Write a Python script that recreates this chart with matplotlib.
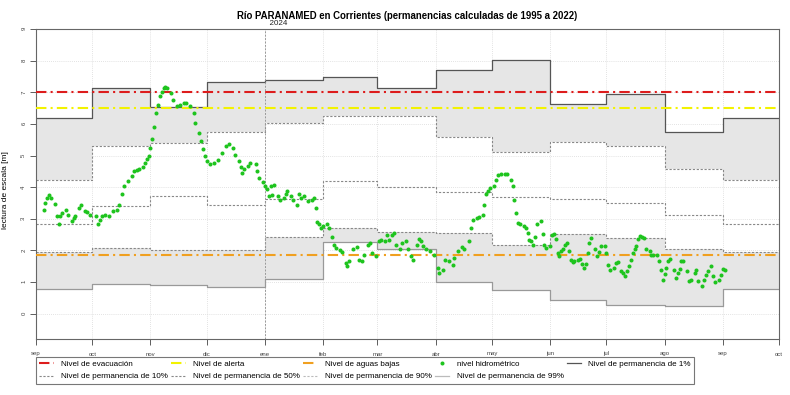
import matplotlib
matplotlib.use("Agg")
import matplotlib.pyplot as plt
from matplotlib.lines import Line2D
import pandas as pd

plt.rcParams['font.family'] = ['Liberation Sans', 'DejaVu Sans']

# meses (inicio de cada mes) de sep 2023 a sep 2024
meses = ["sep", "oct", "nov", "dic", "ene", "feb", "mar", "abr", "may", "jun", "jul", "ago", "sep", "oct"]

# niveles de permanencia por mes [m]
p1 = [6.18, 7.13, 6.52, 7.32, 7.40, 7.49, 7.14, 7.69, 8.03, 6.62, 6.95, 5.73, 6.18]
p10 = [4.23, 5.29, 5.39, 5.74, 6.03, 6.26, 6.25, 5.59, 5.12, 5.42, 5.31, 4.56, 4.23]
p50 = [2.84, 3.41, 3.72, 3.45, 3.64, 4.19, 4.00, 3.84, 3.70, 3.64, 3.50, 3.13, 2.84]
p90 = [1.96, 2.08, 2.02, 2.02, 2.41, 2.72, 2.57, 2.55, 2.18, 2.53, 2.38, 2.04, 1.96]
p99 = [0.78, 0.94, 0.90, 0.83, 1.10, 2.27, 2.03, 1.01, 0.75, 0.43, 0.28, 0.25, 0.78]

# niveles de referencia
evacuacion = 7.0
alerta = 6.5
aguas_bajas = 1.85

# nivel hidrometrico: dias desde 2023-09-01 y lectura [m]
dias = [4, 5, 6, 7, 8, 10, 11, 12, 13, 14, 16, 17, 19, 20, 21, 23, 24, 26, 27, 29,
        32, 33, 34, 35, 37, 39, 41, 43, 44, 46, 47, 49, 51, 52, 54, 55, 57, 58, 59, 60,
        61, 62, 63, 64, 65, 66, 67, 68, 69,
        70, 72, 73, 75, 77, 79, 80, 82, 84, 85, 87, 88, 89, 90, 91, 93, 95, 97, 99, 101,
        103, 105, 106, 108, 109, 110, 111, 113, 114, 117, 118, 119, 121, 122, 123, 125, 127,
        124, 126, 129, 130, 132, 133, 134, 136, 137, 139, 140, 141, 143, 145, 147, 148, 149,
        150, 151, 152, 153, 155, 156, 158, 159, 160, 162, 163, 165, 166, 167, 169, 171, 172,
        174, 175, 177, 178, 179, 181,
        183, 184, 186, 187, 188, 190, 191, 192, 194, 195, 197, 198, 200, 201, 203, 204, 205,
        206, 208, 210, 212,
        214, 215, 217, 218, 220, 222, 223, 225, 227, 228, 231, 232, 233, 235, 236, 238, 239,
        240, 241, 242,
        244, 245, 246, 248, 250, 251, 253, 254, 255, 256, 257, 258, 260, 261, 262, 263, 264,
        265, 266, 267, 269, 270, 271, 272,
        274, 275, 276, 277, 278, 279, 280, 281, 282, 283, 284, 285, 286, 287, 289, 290, 291,
        292, 293, 294, 295, 296, 298, 299, 300, 301, 303,
        304, 305, 306, 308, 309, 310, 312, 313, 314, 315, 316, 317, 318, 319, 320, 321, 322,
        323, 324, 325, 327, 328, 329, 331,
        332, 333, 334, 335, 336, 337, 338, 340, 341, 342, 343, 344, 345, 347, 348, 349, 351,
        352, 353, 355, 356, 357, 358, 360, 361, 362, 364, 365, 366, 367]
nivel = [3.29, 3.50, 3.66, 3.74, 3.66, 3.48, 3.08, 2.82, 3.08, 3.19, 3.29, 3.13, 2.92, 3.03, 3.08, 3.34, 3.45, 3.24, 3.22, 3.13,
         3.08, 2.82, 2.97, 3.08, 3.13, 3.08, 3.24, 3.29, 3.45, 3.77, 4.03, 4.19, 4.34, 4.50, 4.55, 4.58, 4.64, 4.77, 4.88, 4.98,
         5.24, 5.51, 5.90, 6.35, 6.61, 6.88, 7.00, 7.14, 7.17,
         7.15, 6.98, 6.77, 6.56, 6.61, 6.67, 6.65, 6.56, 6.35, 6.03, 5.70, 5.45, 5.21, 5.00, 4.82, 4.74, 4.77, 4.85, 5.08, 5.29,
         5.37, 5.24, 5.03, 4.82, 4.64, 4.45, 4.56, 4.68, 4.77, 4.72, 4.50, 4.29, 4.16, 4.03, 3.95, 4.03, 4.08,
         3.73, 3.74, 3.71, 3.61, 3.66, 3.77, 3.87, 3.71, 3.61, 3.45, 3.77, 3.66, 3.71, 3.55, 3.61, 3.66, 3.34,
         2.89, 2.85, 2.71, 2.78, 2.82, 2.71, 2.41, 2.18, 2.08, 2.00, 1.94, 1.60, 1.52, 1.66, 2.05, 2.11, 1.71,
         1.66, 1.87, 2.18, 2.24, 1.92, 1.81,
         2.29, 2.34, 2.29, 2.50, 2.34, 2.50, 2.55, 2.18, 2.03, 2.24, 2.29, 2.03, 1.81, 1.71, 2.18, 2.36, 2.29,
         2.13, 2.03, 1.97, 1.84,
         1.45, 1.29, 1.39, 1.71, 1.66, 1.55, 1.76, 1.97, 2.11, 2.05, 2.31, 2.71, 2.97, 3.03, 3.06, 3.13, 3.45,
         3.77, 3.87, 3.98,
         4.03, 4.22, 4.40, 4.42, 4.41, 4.43, 4.22, 4.03, 3.61, 3.19, 2.87, 2.82, 2.76, 2.71, 2.55, 2.32, 2.31,
         2.18, 2.43, 2.82, 2.92, 2.52, 2.18, 2.08,
         2.13, 2.50, 2.53, 2.36, 1.92, 1.81, 1.97, 2.05, 2.18, 2.22, 1.97, 1.69, 1.64, 1.66, 1.71, 1.73, 1.58,
         1.45, 1.58, 1.92, 2.24, 2.40, 2.05, 1.81, 1.94, 2.13, 2.15,
         1.92, 1.55, 1.39, 1.45, 1.60, 1.62, 1.34, 1.29, 1.18, 1.34, 1.50, 1.71, 1.92, 2.05, 2.15, 2.35, 2.45,
         2.43, 2.40, 2.03, 1.97, 1.87, 1.84, 1.84,
         1.66, 1.39, 1.08, 1.26, 1.45, 1.66, 1.73, 1.39, 1.13, 1.29, 1.41, 1.66, 1.68, 1.34, 1.02, 1.08, 1.29,
         1.37, 1.02, 0.89, 1.08, 1.23, 1.34, 1.50, 1.20, 0.99, 1.08, 1.23, 1.41, 1.37]

inicio = pd.Timestamp("2023-09-01")
bordes = pd.date_range("2023-09-01", "2024-10-01", freq="MS")
fechas = inicio + pd.to_timedelta(dias, unit="D")

def escalon(v):
    # repetimos el ultimo valor para cerrar el escalon en oct
    return list(v) + [v[-1]]

fig = plt.figure(figsize=(7.9, 3.95), dpi=100)
ax = fig.add_axes([36 / 790, 1 - 339 / 395, 743 / 790, 310 / 395])

gris_grilla = "#d9d9d9"
for b in bordes:
    ax.axvline(b, color=gris_grilla, lw=0.6, ls=(0, (1, 1.5)), zorder=0)
for yv in range(0, 10):
    ax.axhline(yv, color=gris_grilla, lw=0.6, ls=(0, (1, 1.5)), zorder=0)

# bandas de permanencia
ax.fill_between(bordes, escalon(p10), escalon(p1), step="post", color="#e6e6e6", lw=0, zorder=1)
ax.fill_between(bordes, escalon(p99), escalon(p90), step="post", color="#e6e6e6", lw=0, zorder=1)
ax.step(bordes, escalon(p1), where="post", color="#555555", lw=0.9, zorder=2)
ax.step(bordes, escalon(p10), where="post", color="#888888", lw=0.8, ls=(0, (2, 1.5)), zorder=2)
ax.step(bordes, escalon(p50), where="post", color="#888888", lw=0.8, ls=(0, (2, 1.5)), zorder=2)
ax.step(bordes, escalon(p90), where="post", color="#888888", lw=0.8, ls=(0, (2, 1.5)), zorder=2)
ax.step(bordes, escalon(p99), where="post", color="#999999", lw=0.9, zorder=2)

# niveles de referencia
ax.axhline(evacuacion, color="#dd1c1c", lw=1.5, ls=(0, (5, 2, 1, 2)), zorder=3)
ax.axhline(alerta, color="#f2f200", lw=1.5, ls=(0, (5, 2, 1, 2)), zorder=3)
ax.axhline(aguas_bajas, color="#f0a020", lw=1.5, ls=(0, (5, 2, 1, 2)), zorder=3)

# inicio de 2024
ax.axvline(pd.Timestamp("2024-01-01"), color="#999999", lw=0.7, ls=(0, (2, 1.5)), zorder=2)
ax.text(pd.Timestamp("2024-01-01"), 9.06, "  2024", fontsize=5.8, color="#222222", ha="left", va="bottom")

ax.plot(fechas, nivel, "o", color="#1ec41e", ms=2.9, mew=0, zorder=4)

ax.set_xlim(bordes[0], bordes[-1])
ax.set_ylim(-0.8, 9)
ax.set_xticks(bordes)
ax.set_xticklabels(meses)
ax.set_yticks(range(0, 10))
ax.tick_params(axis="both", labelsize=4.3, colors="#444444", length=4, width=0.6, pad=5)
ax.tick_params(axis="y", labelrotation=90, pad=3)
for s in ax.spines.values():
    s.set_color("#666666")
    s.set_linewidth(0.8)

fig.text(407.5 / 790, 1 - 16 / 395, "Río PARANAMED en Corrientes (permanencias calculadas de 1995 a 2022)",
         fontsize=6.9, fontweight="bold", ha="center", va="center")
fig.text(6 / 790, 1 - 190 / 395, "lectura de escala [m]", fontsize=6, rotation=90, ha="center", va="center")

# leyenda en filas: reordenada porque matplotlib llena por columnas
estilo = dict(lw=1.5, ls=(0, (5, 2, 1, 2)))
h_evac = Line2D([], [], color="#dd1c1c", **estilo)
h_alerta = Line2D([], [], color="#f2f200", **estilo)
h_bajas = Line2D([], [], color="#f0a020", **estilo)
h_hidro = Line2D([], [], color="#1ec41e", marker="o", ls="none", ms=2.9, mew=0)
h_1 = Line2D([], [], color="#555555", lw=0.9)
h_10 = Line2D([], [], color="#888888", lw=0.8, ls=(0, (2, 1.5)))
h_50 = Line2D([], [], color="#888888", lw=0.8, ls=(0, (2, 1.5)))
h_90 = Line2D([], [], color="#bbbbbb", lw=0.8, ls=(0, (2, 1.5)))
h_99 = Line2D([], [], color="#bbbbbb", lw=0.9)
handles = [h_evac, h_10, h_alerta, h_50, h_bajas, h_90, h_hidro, h_99, h_1]
labels = ["Nivel de evacuación", "Nivel de permanencia de 10%",
          "Nivel de alerta", "Nivel de permanencia de 50%",
          "Nivel de aguas bajas", "Nivel de permanencia de 90%",
          "nivel hidrométrico", "Nivel de permanencia de 99%",
          "Nivel de permanencia de 1%"]
leg = fig.legend(handles, labels, loc="upper left", bbox_to_anchor=(36 / 790, 1 - 357 / 395),
                 ncol=5, fontsize=5.8, frameon=True, fancybox=False, edgecolor="#555555",
                 handlelength=1.8, handletextpad=0.9, columnspacing=0.4, labelspacing=0.6,
                 borderpad=0.4, borderaxespad=0)
leg.get_frame().set_linewidth(0.8)

fig.savefig("out.png", dpi=100)
